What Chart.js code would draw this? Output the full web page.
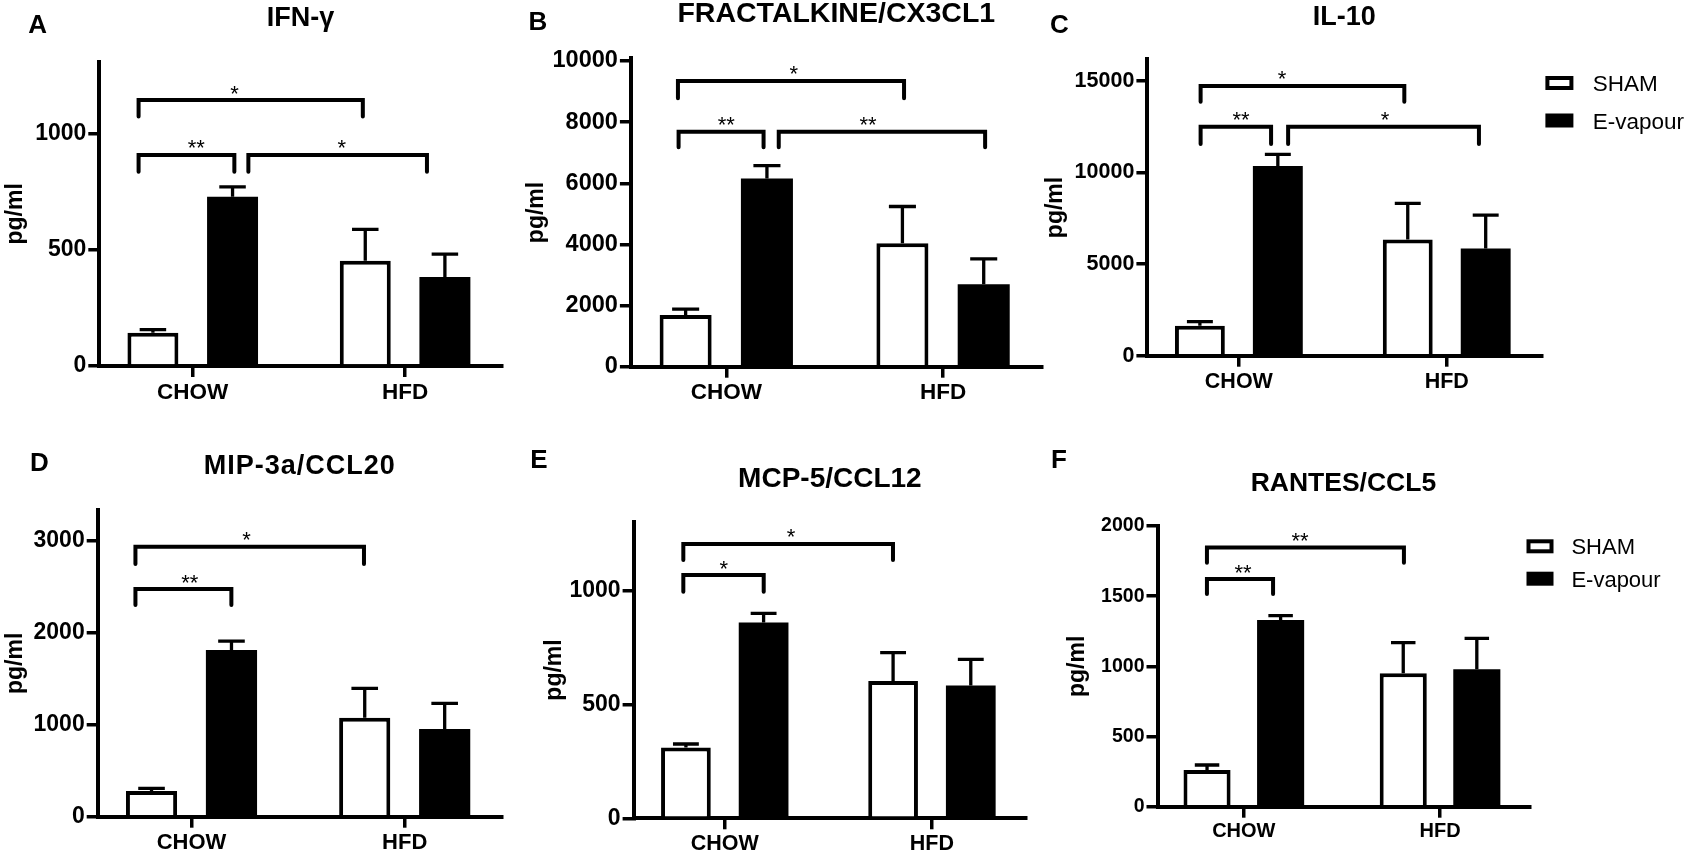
<!DOCTYPE html>
<html>
<head>
<meta charset="utf-8">
<title>Cytokine panels</title>
<script src="https://cdn.jsdelivr.net/npm/chart.js@4.4.1/dist/chart.umd.min.js"></script>
<style>
  html, body { margin: 0; padding: 0; background: #fff; }
  #page { position: relative; width: 1689px; height: 852px; overflow: hidden; background: #fff; }
  #page canvas { position: absolute; }
</style>
</head>
<body>
<div id="page"></div>
<script>
// groups on the x axis (CHOW = 0, HFD = 1) and the two series
const groups = ['CHOW', 'HFD'];
const seriesNames = ['SHAM', 'E-vapour'];

// brackets: from/to in group units, top/foot in pg/ml

// A - IFN-gamma
const ifngSham = [143, 452];
const ifngShamSem = [13, 135];
const ifngVape = [727, 383];
const ifngVapeSem = [43, 98];
const ifngTicks = [0, 500, 1000];
const ifngBrFrom = [-0.255, -0.255, 0.262];
const ifngBrTo = [0.801, 0.196, 1.103];
const ifngBrTop = [1143, 907, 907];
const ifngBrFoot = [1072, 835, 835];
const ifngStars = ['*', '**', '*'];
const ifngStarX = [0.197, 0.017, 0.702];

// B - Fractalkine/CX3CL1
const fktnSham = [1690, 4040];
const fktnShamSem = [195, 1200];
const fktnVape = [6160, 2700];
const fktnVapeSem = [415, 830];
const fktnTicks = [0, 2000, 4000, 6000, 8000, 10000];
const fktnBrFrom = [-0.223, -0.220, 0.242];
const fktnBrTo = [0.820, 0.172, 1.194];
const fktnBrTop = [9346, 7688, 7688];
const fktnBrFoot = [8779, 7176, 7176];
const fktnStars = ['*', '**', '**'];
const fktnStarX = [0.311, 0.0, 0.654];

// C - IL-10
const il10Sham = [1640, 6350];
const il10ShamSem = [218, 1966];
const il10Vape = [10360, 5860];
const il10VapeSem = [637, 1821];
const il10Ticks = [0, 5000, 10000, 15000];
const il10BrFrom = [-0.184, -0.184, 0.237];
const il10BrTo = [0.796, 0.155, 1.155];
const il10BrTop = [14728, 12507, 12507];
const il10BrFoot = [13872, 11560, 11560];
const il10Stars = ['*', '**', '*'];
const il10StarX = [0.208, 0.010, 0.703];

// D - MIP-3a/CCL20
const ccl20Sham = [279, 1077];
const ccl20ShamSem = [29, 319];
const ccl20Vape = [1813, 954];
const ccl20VapeSem = [98, 279];
const ccl20Ticks = [0, 1000, 2000, 3000];
const ccl20BrFrom = [-0.263, -0.263];
const ccl20BrTo = [0.809, 0.187];
const ccl20BrTop = [2938, 2477];
const ccl20BrFoot = [2749, 2303];
const ccl20Stars = ['*', '**'];
const ccl20StarX = [0.258, -0.008];

// E - MCP-5/CCL12
const ccl12Sham = [311, 604];
const ccl12ShamSem = [16, 125];
const ccl12Vape = [861, 584];
const ccl12VapeSem = [41, 115];
const ccl12Ticks = [0, 500, 1000];
const ccl12BrFrom = [-0.200, -0.200];
const ccl12BrTo = [0.812, 0.188];
const ccl12BrTop = [1207, 1070];
const ccl12BrFoot = [1136, 997];
const ccl12Stars = ['*', '*'];
const ccl12StarX = [0.320, -0.005];

// F - RANTES/CCL5
const ccl5Sham = [261, 950];
const ccl5ShamSem = [36, 219];
const ccl5Vape = [1330, 979];
const ccl5VapeSem = [31, 221];
const ccl5Ticks = [0, 500, 1000, 1500, 2000];
const ccl5BrFrom = [-0.188, -0.188];
const ccl5BrTo = [0.816, 0.149];
const ccl5BrTop = [1846, 1622];
const ccl5BrFoot = [1739, 1515];
const ccl5Stars = ['**', '**'];
const ccl5StarX = [0.286, -0.004];

const FONT = '"Liberation Sans", Arial, Helvetica, sans-serif';
Chart.defaults.font.family = FONT;
Chart.defaults.color = '#000';

const panels = [
  { letter: 'A', title: 'IFN-γ', yMax: 1308,
    sham: ifngSham, shamSem: ifngShamSem, vape: ifngVape, vapeSem: ifngVapeSem, ticks: ifngTicks,
    br: [ifngBrFrom, ifngBrTo, ifngBrTop, ifngBrFoot, ifngStars, ifngStarX],
    box: { x: 0, y: 0, w: 520, h: 420 }, area: { l: 99.3, t: 61.7, r: 501.7, b: 366 },
    yTitleX: 16, letterAt: [28.3, 24], titleY: 16, fTick: 23, fCat: 22.5, fTitle: 27 },
  { letter: 'B', title: 'FRACTALKINE/CX3CL1', yMax: 10088,
    sham: fktnSham, shamSem: fktnShamSem, vape: fktnVape, vapeSem: fktnVapeSem, ticks: fktnTicks,
    br: [fktnBrFrom, fktnBrTo, fktnBrTop, fktnBrFoot, fktnStars, fktnStarX],
    box: { x: 520, y: 0, w: 525, h: 420 }, area: { l: 630.9, t: 58.3, r: 1041.7, b: 366.7 },
    yTitleX: 537, letterAt: [528.6, 21], titleY: 11.5, fTick: 23.5, fCat: 22.5, fTitle: 28.5 },
  { letter: 'C', title: 'IL-10', yMax: 16185,
    sham: il10Sham, shamSem: il10ShamSem, vape: il10Vape, vapeSem: il10VapeSem, ticks: il10Ticks,
    br: [il10BrFrom, il10BrTo, il10BrTop, il10BrFoot, il10Stars, il10StarX],
    box: { x: 1040, y: 0, w: 649, h: 420 }, area: { l: 1147.4, t: 59.3, r: 1541.3, b: 355.7 },
    yTitleX: 1056, letterAt: [1050, 24], titleY: 15, fTick: 21.5, fCat: 21.5, fTitle: 27,
    legend: { x: 1545.4, y: [76, 113.5], w: 28, h: 14, textX: 1592.7, size: 22.5 } },
  { letter: 'D', title: 'MIP-3a/CCL20', yMax: 3337, spacing: 1,
    sham: ccl20Sham, shamSem: ccl20ShamSem, vape: ccl20Vape, vapeSem: ccl20VapeSem, ticks: ccl20Ticks,
    br: [ccl20BrFrom, ccl20BrTo, ccl20BrTop, ccl20BrFoot, ccl20Stars, ccl20StarX],
    box: { x: 0, y: 420, w: 520, h: 432 }, area: { l: 97.7, t: 510, r: 501.7, b: 816.7 },
    yTitleX: 16, letterAt: [30, 461.7], titleY: 464, fTick: 23, fCat: 22, fTitle: 27 },
  { letter: 'E', title: 'MCP-5/CCL12', yMax: 1305,
    sham: ccl12Sham, shamSem: ccl12ShamSem, vape: ccl12Vape, vapeSem: ccl12VapeSem, ticks: ccl12Ticks,
    br: [ccl12BrFrom, ccl12BrTo, ccl12BrTop, ccl12BrFoot, ccl12Stars, ccl12StarX],
    box: { x: 520, y: 420, w: 520, h: 432 }, area: { l: 633.6, t: 521.7, r: 1026.2, b: 818.3 },
    yTitleX: 554.4, letterAt: [530.3, 458.3], titleY: 476.7, fTick: 23, fCat: 21.5, fTitle: 28 },
  { letter: 'F', title: 'RANTES/CCL5', yMax: 2000,
    sham: ccl5Sham, shamSem: ccl5ShamSem, vape: ccl5Vape, vapeSem: ccl5VapeSem, ticks: ccl5Ticks,
    br: [ccl5BrFrom, ccl5BrTo, ccl5BrTop, ccl5BrFoot, ccl5Stars, ccl5StarX],
    box: { x: 1040, y: 420, w: 649, h: 432 }, area: { l: 1157.5, t: 526, r: 1529.3, b: 806.7 },
    yTitleX: 1078, letterAt: [1051, 459], titleY: 482, fTick: 19.5, fCat: 20, fTitle: 26.5,
    legend: { x: 1526.5, y: [539.3, 571.7], w: 27, h: 14, textX: 1571.4, size: 22 } }
];

const Y_TITLE_SIZE = 23;
const Y_TITLE_HALF = Y_TITLE_SIZE * 1.2 / 2;

// text whose capital letters are centred on yc
function capText(ctx, str, x, yc, size, weight, align, spacing) {
  ctx.save();
  ctx.font = weight + ' ' + size + 'px ' + FONT;
  ctx.fillStyle = '#000';
  ctx.textAlign = align;
  ctx.textBaseline = 'alphabetic';
  if (spacing && 'letterSpacing' in ctx) ctx.letterSpacing = spacing + 'px';
  ctx.fillText(str, x, yc + size * 0.358);
  ctx.restore();
}

function makeDecor(p) {
  const ox = p.box.x, oy = p.box.y;
  return {
    id: 'decor' + p.letter,
    afterDatasetsDraw(chart) {
      const ctx = chart.ctx, ys = chart.scales.y;
      [[p.sham, p.shamSem], [p.vape, p.vapeSem]].forEach(([vals, sem], di) => {
        chart.getDatasetMeta(di).data.forEach((bar, j) => {
          const top = ys.getPixelForValue(vals[j] + sem[j]);
          const half = bar.width * 0.26;
          ctx.save();
          ctx.strokeStyle = '#000';
          ctx.lineWidth = 3.3;
          ctx.beginPath();
          ctx.moveTo(bar.x, bar.y);
          ctx.lineTo(bar.x, top);
          ctx.moveTo(bar.x - half, top);
          ctx.lineTo(bar.x + half, top);
          ctx.stroke();
          ctx.restore();
        });
      });
    },
    afterDraw(chart) {
      const ctx = chart.ctx, xs = chart.scales.x, ys = chart.scales.y;
      const [from, to, top, foot, stars, starX] = p.br;

      // significance brackets
      ctx.save();
      ctx.strokeStyle = '#000';
      ctx.lineWidth = 4;
      ctx.lineCap = 'round';
      ctx.lineJoin = 'miter';
      from.forEach((f, i) => {
        const x1 = xs.getPixelForValue(f), x2 = xs.getPixelForValue(to[i]);
        const yt = ys.getPixelForValue(top[i]), yf = ys.getPixelForValue(foot[i]);
        ctx.beginPath();
        ctx.moveTo(x1, yf);
        ctx.lineTo(x1, yt);
        ctx.lineTo(x2, yt);
        ctx.lineTo(x2, yf);
        ctx.stroke();
      });
      ctx.font = '22px ' + FONT;
      ctx.fillStyle = '#000';
      ctx.textAlign = 'center';
      ctx.textBaseline = 'alphabetic';
      stars.forEach((s, i) => {
        ctx.fillText(s, xs.getPixelForValue(starX[i]), ys.getPixelForValue(top[i]) + 0.5);
      });
      ctx.restore();

      // panel letter and title
      capText(ctx, p.letter, p.letterAt[0] - ox, p.letterAt[1] - oy, 26, 'bold', 'left');
      const ca = chart.chartArea;
      capText(ctx, p.title, (ca.left + ca.right) / 2, p.titleY - oy, p.fTitle, 'bold', 'center',
        p.spacing || 0);

      // legend
      if (p.legend) {
        const lg = p.legend;
        chart.data.datasets.forEach((ds, i) => {
          const bx = lg.x - ox, by = lg.y[i] - oy;
          ctx.save();
          ctx.fillStyle = ds.backgroundColor;
          ctx.fillRect(bx, by, lg.w, lg.h);
          if (ds.borderWidth) {
            ctx.strokeStyle = ds.borderColor;
            ctx.lineWidth = ds.borderWidth;
            ctx.strokeRect(bx + 2, by + 2, lg.w - 4, lg.h - 4);
          }
          ctx.restore();
          capText(ctx, ds.label, lg.textX - ox, by + lg.h / 2, lg.size, 'normal', 'left');
        });
      }
    }
  };
}

const page = document.getElementById('page');

panels.forEach(p => {
  const canvas = document.createElement('canvas');
  canvas.width = p.box.w;
  canvas.height = p.box.h;
  canvas.style.left = p.box.x + 'px';
  canvas.style.top = p.box.y + 'px';
  canvas.style.width = p.box.w + 'px';
  canvas.style.height = p.box.h + 'px';
  page.appendChild(canvas);

  const padLeft = p.yTitleX - p.box.x - Y_TITLE_HALF;
  const yWidth = p.area.l - p.box.x - padLeft;
  const xHeight = p.box.y + p.box.h - p.area.b;

  const axisCommon = {
    grid: { display: true, drawOnChartArea: false, drawTicks: true, tickLength: 11,
            lineWidth: 3.5, color: '#000', offset: false },
    border: { display: true, width: 4, color: '#000' }
  };

  new Chart(canvas, {
    type: 'bar',
    data: {
      datasets: [
        { label: seriesNames[0], data: groups.map((g, i) => ({ x: i, y: p.sham[i] })),
          backgroundColor: '#ffffff', borderColor: '#000000', borderWidth: 4 },
        { label: seriesNames[1], data: groups.map((g, i) => ({ x: i, y: p.vape[i] })),
          backgroundColor: '#000000', borderColor: '#000000', borderWidth: 0 }
      ]
    },
    options: {
      responsive: false,
      animation: false,
      categoryPercentage: 0.75,
      barPercentage: 0.64,
      layout: { padding: { left: padLeft, top: p.area.t - p.box.y,
                           right: p.box.x + p.box.w - p.area.r, bottom: 0 } },
      plugins: { legend: { display: false }, tooltip: { enabled: false } },
      scales: {
        x: Object.assign({}, axisCommon, {
          type: 'linear', min: -0.44, max: 1.455, offset: false,
          ticks: { autoSkip: false, maxRotation: 0, padding: 2, color: '#000',
                   font: { size: p.fCat, weight: 'bold' },
                   callback: v => groups[v] === undefined ? '' : groups[v] },
          afterBuildTicks: s => { s.ticks = groups.map((g, i) => ({ value: i })); },
          afterFit: s => { s.height = xHeight; }
        }),
        y: Object.assign({}, axisCommon, {
          type: 'linear', min: 0, max: p.yMax,
          ticks: { autoSkip: false, padding: 2, color: '#000',
                   font: { size: p.fTick, weight: 'bold' },
                   callback: v => String(v) },
          afterBuildTicks: s => { s.ticks = p.ticks.map(v => ({ value: v })); },
          afterFit: s => { s.width = yWidth; },
          title: { display: true, text: 'pg/ml', color: '#000', padding: 0,
                   font: { size: Y_TITLE_SIZE, weight: 'bold', lineHeight: 1.2 } }
        })
      }
    },
    plugins: [makeDecor(p)]
  });
});
</script>
</body>
</html>
